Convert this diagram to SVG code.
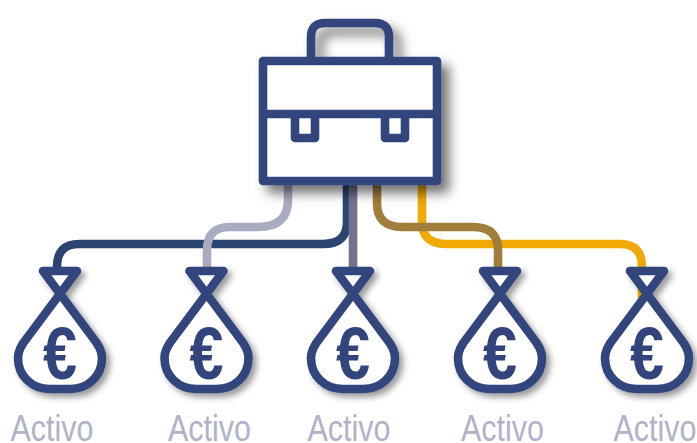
<svg xmlns="http://www.w3.org/2000/svg" width="697" height="443" viewBox="0 0 697 443">
<style>
.ln{fill:none;stroke-width:8.600}
.ic{fill:#fff;stroke:#33447d;stroke-width:8.600;stroke-linejoin:round}
.eu{font-family:"Liberation Sans",Arial,sans-serif;font-weight:700;font-size:74px;fill:#33447d;text-anchor:middle}
.lb{font-family:"Liberation Sans",Arial,sans-serif;font-size:37px;fill:#b0b2c8;text-anchor:middle}
</style>
<defs>
<filter id="s1" x="-20%" y="-20%" width="150%" height="150%"><feDropShadow dx="8" dy="8" stdDeviation="6" flood-color="#000" flood-opacity=".55"/></filter>
<filter id="s2" x="-20%" y="-20%" width="150%" height="150%"><feDropShadow dx="4" dy="4" stdDeviation="3" flood-color="#000" flood-opacity=".4"/></filter>
<g id="bag">
<path class="ic" d="M-17 271H17L-33 338C-38 344-42 350-42 358C-42 376-28 389-10 389H10C28 389 42 376 42 358C42 350 38 344 33 338Z"/>
</g>
</defs>
<g id="connectors">
<path class="ln" stroke="#f0a905" d="M422 180V222Q422 244 447 244H620Q642 244 642 267V298"/>
<path class="ln" stroke="#2b4470" d="M347 180V222Q347 244 323 244H79Q57 244 57 267"/>
<path class="ln" stroke="#a9abc0" d="M288 180V200Q288 227 258 227H230Q207 227 207 250V267"/>
<path class="ln" stroke="#70748e" d="M353 180V267"/>
<path class="ln" stroke="#a17e3c" d="M377 180V203Q377 227 402 227H473Q498 227 498 250V267"/>
</g>
<g id="briefcase" filter="url(#s1)">
<path class="ln" stroke="#33447d" d="M311 61V37Q311 23 325 23H375Q389 23 389 37V61"/>
<rect class="ic" x="263" y="61" width="174" height="120"/>
<path class="ln" stroke="#33447d" stroke-linejoin="round" d="M263 114H437M295 114V138H315V114M385 114V138H405V114"/>
</g>
<g id="asset1"><use href="#bag" x="60" filter="url(#s2)"/><text class="eu" x="60" y="379" textLength="34" lengthAdjust="spacingAndGlyphs">€</text></g>
<g id="asset2"><use href="#bag" x="206.500" filter="url(#s2)"/><text class="eu" x="206.500" y="379" textLength="34" lengthAdjust="spacingAndGlyphs">€</text></g>
<g id="asset3"><use href="#bag" x="353" filter="url(#s2)"/><text class="eu" x="353" y="379" textLength="34" lengthAdjust="spacingAndGlyphs">€</text></g>
<g id="asset4"><use href="#bag" x="500" filter="url(#s2)"/><text class="eu" x="500" y="379" textLength="34" lengthAdjust="spacingAndGlyphs">€</text></g>
<g id="asset5"><use href="#bag" x="647" filter="url(#s2)"/><text class="eu" x="647" y="379" textLength="34" lengthAdjust="spacingAndGlyphs">€</text></g>
<text class="lb" x="52" y="440.500" textLength="83" lengthAdjust="spacingAndGlyphs">Activo</text>
<text class="lb" x="209.500" y="440.500" textLength="83" lengthAdjust="spacingAndGlyphs">Activo</text>
<text class="lb" x="349" y="440.500" textLength="83" lengthAdjust="spacingAndGlyphs">Activo</text>
<text class="lb" x="502.500" y="440.500" textLength="83" lengthAdjust="spacingAndGlyphs">Activo</text>
<text class="lb" x="655" y="440.500" textLength="83" lengthAdjust="spacingAndGlyphs">Activo</text>
</svg>
